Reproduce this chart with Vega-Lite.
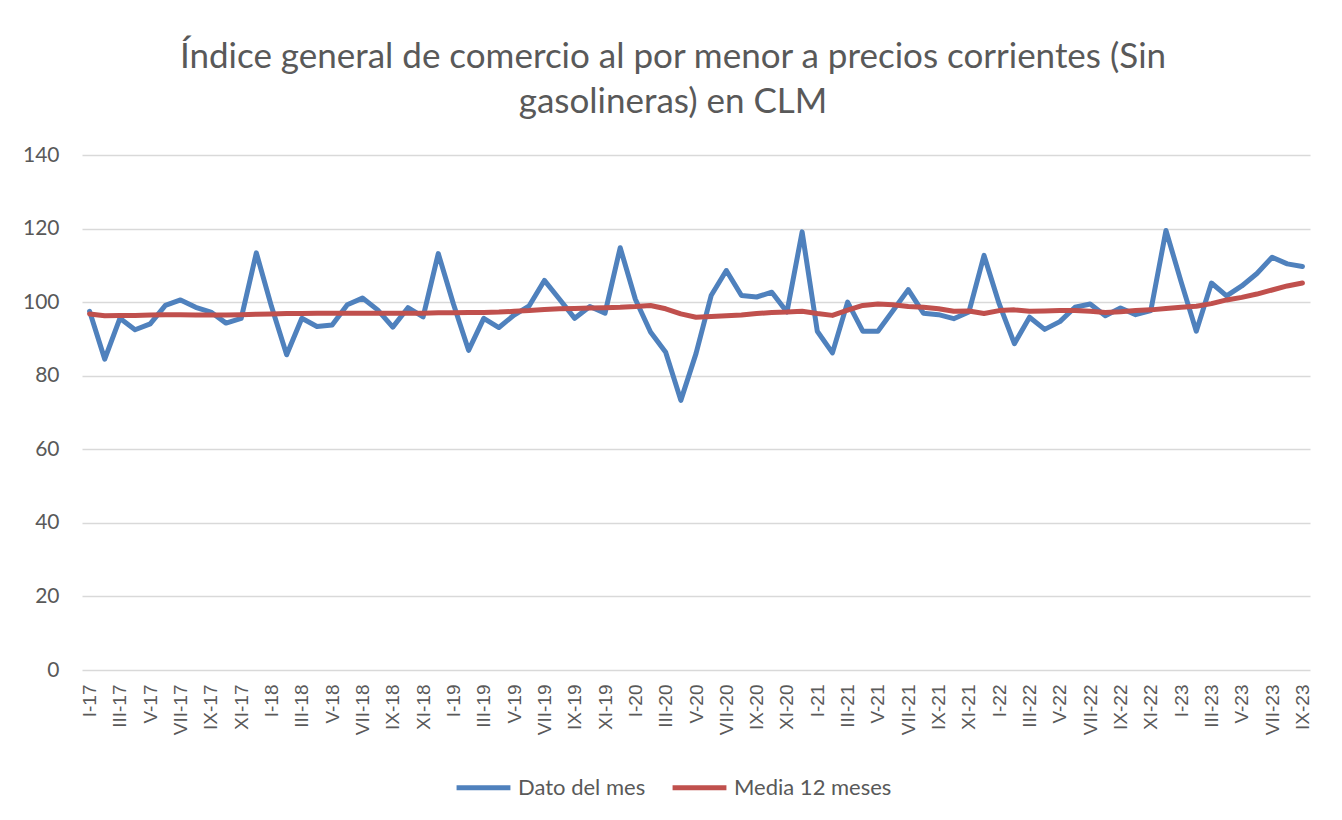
{
  "$schema": "https://vega.github.io/schema/vega-lite/v6.json",
  "width": 1228,
  "height": 515,
  "autosize": {"type": "none"},
  "padding": {"left": 82, "top": 155, "right": 32, "bottom": 150},
  "background": "white",
  "title": {
    "text": ["Índice general de comercio al por menor a precios corrientes (Sin", "gasolineras) en CLM"],
    "font": "Lato",
    "fontSize": 35,
    "fontWeight": "normal",
    "color": "#595959",
    "anchor": "middle",
    "dx": -23,
    "lineHeight": 45,
    "offset": 24
  },
  "data": {
    "values": [
      {"mes": "I-17", "Dato del mes": 97.5, "Media 12 meses": 96.8},
      {"mes": "II-17", "Dato del mes": 84.5, "Media 12 meses": 96.3},
      {"mes": "III-17", "Dato del mes": 95.6, "Media 12 meses": 96.4},
      {"mes": "IV-17", "Dato del mes": 92.5, "Media 12 meses": 96.4},
      {"mes": "V-17", "Dato del mes": 94.1, "Media 12 meses": 96.5},
      {"mes": "VI-17", "Dato del mes": 99.1, "Media 12 meses": 96.6},
      {"mes": "VII-17", "Dato del mes": 100.6, "Media 12 meses": 96.6},
      {"mes": "VIII-17", "Dato del mes": 98.6, "Media 12 meses": 96.5},
      {"mes": "IX-17", "Dato del mes": 97.3, "Media 12 meses": 96.5},
      {"mes": "X-17", "Dato del mes": 94.3, "Media 12 meses": 96.5},
      {"mes": "XI-17", "Dato del mes": 95.6, "Media 12 meses": 96.6},
      {"mes": "XII-17", "Dato del mes": 113.4, "Media 12 meses": 96.7},
      {"mes": "I-18", "Dato del mes": 98.8, "Media 12 meses": 96.8},
      {"mes": "II-18", "Dato del mes": 85.7, "Media 12 meses": 96.9},
      {"mes": "III-18", "Dato del mes": 95.6, "Media 12 meses": 96.9},
      {"mes": "IV-18", "Dato del mes": 93.4, "Media 12 meses": 97.0},
      {"mes": "V-18", "Dato del mes": 93.8, "Media 12 meses": 97.0},
      {"mes": "VI-18", "Dato del mes": 99.3, "Media 12 meses": 97.0},
      {"mes": "VII-18", "Dato del mes": 101.1, "Media 12 meses": 97.0},
      {"mes": "VIII-18", "Dato del mes": 97.9, "Media 12 meses": 97.0},
      {"mes": "IX-18", "Dato del mes": 93.2, "Media 12 meses": 97.0},
      {"mes": "X-18", "Dato del mes": 98.5, "Media 12 meses": 97.0},
      {"mes": "XI-18", "Dato del mes": 96.0, "Media 12 meses": 97.0},
      {"mes": "XII-18", "Dato del mes": 113.2, "Media 12 meses": 97.1},
      {"mes": "I-19", "Dato del mes": 99.5, "Media 12 meses": 97.1},
      {"mes": "II-19", "Dato del mes": 86.9, "Media 12 meses": 97.2},
      {"mes": "III-19", "Dato del mes": 95.6, "Media 12 meses": 97.2},
      {"mes": "IV-19", "Dato del mes": 93.1, "Media 12 meses": 97.3},
      {"mes": "V-19", "Dato del mes": 96.5, "Media 12 meses": 97.5},
      {"mes": "VI-19", "Dato del mes": 99.0, "Media 12 meses": 97.7},
      {"mes": "VII-19", "Dato del mes": 105.9, "Media 12 meses": 98.0},
      {"mes": "VIII-19", "Dato del mes": 100.8, "Media 12 meses": 98.2},
      {"mes": "IX-19", "Dato del mes": 95.6, "Media 12 meses": 98.3},
      {"mes": "X-19", "Dato del mes": 98.8, "Media 12 meses": 98.4},
      {"mes": "XI-19", "Dato del mes": 97.0, "Media 12 meses": 98.5},
      {"mes": "XII-19", "Dato del mes": 114.8, "Media 12 meses": 98.6},
      {"mes": "I-20", "Dato del mes": 100.8, "Media 12 meses": 98.8},
      {"mes": "II-20", "Dato del mes": 91.9, "Media 12 meses": 99.1},
      {"mes": "III-20", "Dato del mes": 86.4, "Media 12 meses": 98.2},
      {"mes": "IV-20", "Dato del mes": 73.3, "Media 12 meses": 96.8},
      {"mes": "V-20", "Dato del mes": 86.0, "Media 12 meses": 95.9},
      {"mes": "VI-20", "Dato del mes": 101.8, "Media 12 meses": 96.1},
      {"mes": "VII-20", "Dato del mes": 108.6, "Media 12 meses": 96.3},
      {"mes": "VIII-20", "Dato del mes": 101.8, "Media 12 meses": 96.5},
      {"mes": "IX-20", "Dato del mes": 101.4, "Media 12 meses": 96.9},
      {"mes": "X-20", "Dato del mes": 102.7, "Media 12 meses": 97.2},
      {"mes": "XI-20", "Dato del mes": 97.3, "Media 12 meses": 97.3},
      {"mes": "XII-20", "Dato del mes": 119.1, "Media 12 meses": 97.5},
      {"mes": "I-21", "Dato del mes": 92.1, "Media 12 meses": 96.9},
      {"mes": "II-21", "Dato del mes": 86.2, "Media 12 meses": 96.4},
      {"mes": "III-21", "Dato del mes": 100.0, "Media 12 meses": 97.8},
      {"mes": "IV-21", "Dato del mes": 92.1, "Media 12 meses": 99.1},
      {"mes": "V-21", "Dato del mes": 92.1, "Media 12 meses": 99.5},
      {"mes": "VI-21", "Dato del mes": 97.7, "Media 12 meses": 99.3},
      {"mes": "VII-21", "Dato del mes": 103.4, "Media 12 meses": 98.8},
      {"mes": "VIII-21", "Dato del mes": 97.0, "Media 12 meses": 98.6},
      {"mes": "IX-21", "Dato del mes": 96.6, "Media 12 meses": 98.2},
      {"mes": "X-21", "Dato del mes": 95.5, "Media 12 meses": 97.5},
      {"mes": "XI-21", "Dato del mes": 97.3, "Media 12 meses": 97.6},
      {"mes": "XII-21", "Dato del mes": 112.7, "Media 12 meses": 96.9},
      {"mes": "I-22", "Dato del mes": 99.5, "Media 12 meses": 97.7},
      {"mes": "II-22", "Dato del mes": 88.7, "Media 12 meses": 97.9},
      {"mes": "III-22", "Dato del mes": 95.9, "Media 12 meses": 97.5},
      {"mes": "IV-22", "Dato del mes": 92.6, "Media 12 meses": 97.6},
      {"mes": "V-22", "Dato del mes": 94.7, "Media 12 meses": 97.7},
      {"mes": "VI-22", "Dato del mes": 98.6, "Media 12 meses": 97.7},
      {"mes": "VII-22", "Dato del mes": 99.5, "Media 12 meses": 97.5},
      {"mes": "VIII-22", "Dato del mes": 96.3, "Media 12 meses": 97.2},
      {"mes": "IX-22", "Dato del mes": 98.4, "Media 12 meses": 97.4},
      {"mes": "X-22", "Dato del mes": 96.6, "Media 12 meses": 97.7},
      {"mes": "XI-22", "Dato del mes": 97.7, "Media 12 meses": 97.9},
      {"mes": "XII-22", "Dato del mes": 119.5, "Media 12 meses": 98.3},
      {"mes": "I-23", "Dato del mes": 105.5, "Media 12 meses": 98.6},
      {"mes": "II-23", "Dato del mes": 92.1, "Media 12 meses": 98.9},
      {"mes": "III-23", "Dato del mes": 105.2, "Media 12 meses": 99.6},
      {"mes": "IV-23", "Dato del mes": 101.7, "Media 12 meses": 100.6},
      {"mes": "V-23", "Dato del mes": 104.4, "Media 12 meses": 101.3},
      {"mes": "VI-23", "Dato del mes": 107.8, "Media 12 meses": 102.2},
      {"mes": "VII-23", "Dato del mes": 112.2, "Media 12 meses": 103.3},
      {"mes": "VIII-23", "Dato del mes": 110.4, "Media 12 meses": 104.4},
      {"mes": "IX-23", "Dato del mes": 109.7, "Media 12 meses": 105.2}
    ]
  },
  "transform": [
    {"fold": ["Dato del mes", "Media 12 meses"], "as": ["serie", "valor"]}
  ],
  "mark": {"type": "line", "strokeWidth": 5, "strokeCap": "round", "strokeJoin": "round"},
  "encoding": {
    "x": {
      "field": "mes",
      "type": "ordinal",
      "sort": null,
      "scale": {"type": "point", "padding": 0.5},
      "axis": {
        "title": null,
        "values": ["I-17","III-17","V-17","VII-17","IX-17","XI-17","I-18","III-18","V-18","VII-18","IX-18","XI-18","I-19","III-19","V-19","VII-19","IX-19","XI-19","I-20","III-20","V-20","VII-20","IX-20","XI-20","I-21","III-21","V-21","VII-21","IX-21","XI-21","I-22","III-22","V-22","VII-22","IX-22","XI-22","I-23","III-23","V-23","VII-23","IX-23"],
        "labelAngle": -90,
        "labelFont": "Liberation Sans",
        "labelFontSize": 19,
        "labelColor": "#595959",
        "labelPadding": 14,
        "ticks": false,
        "domain": false,
        "grid": false
      }
    },
    "y": {
      "field": "valor",
      "type": "quantitative",
      "scale": {"domain": [0, 140], "nice": false, "zero": true},
      "axis": {
        "title": null,
        "values": [0, 20, 40, 60, 80, 100, 120, 140],
        "labelFont": "Lato",
        "labelFontSize": 21,
        "labelColor": "#595959",
        "labelPadding": 23,
        "ticks": false,
        "domain": false,
        "grid": true,
        "gridColor": "#d9d9d9",
        "gridWidth": 1.5
      }
    },
    "color": {
      "field": "serie",
      "type": "nominal",
      "scale": {"domain": ["Dato del mes", "Media 12 meses"], "range": ["#4f81bd", "#c0504d"]},
      "legend": {
        "title": null,
        "orient": "none",
        "direction": "horizontal",
        "legendX": 372,
        "legendY": 603,
        "symbolType": "stroke",
        "symbolStrokeWidth": 5,
        "symbolSize": 2900,
        "labelFont": "Lato",
        "labelFontSize": 22,
        "labelColor": "#595959",
        "columnPadding": 16,
        "labelOffset": 5
      }
    }
  },
  "config": {
    "view": {"stroke": null}
  }
}
